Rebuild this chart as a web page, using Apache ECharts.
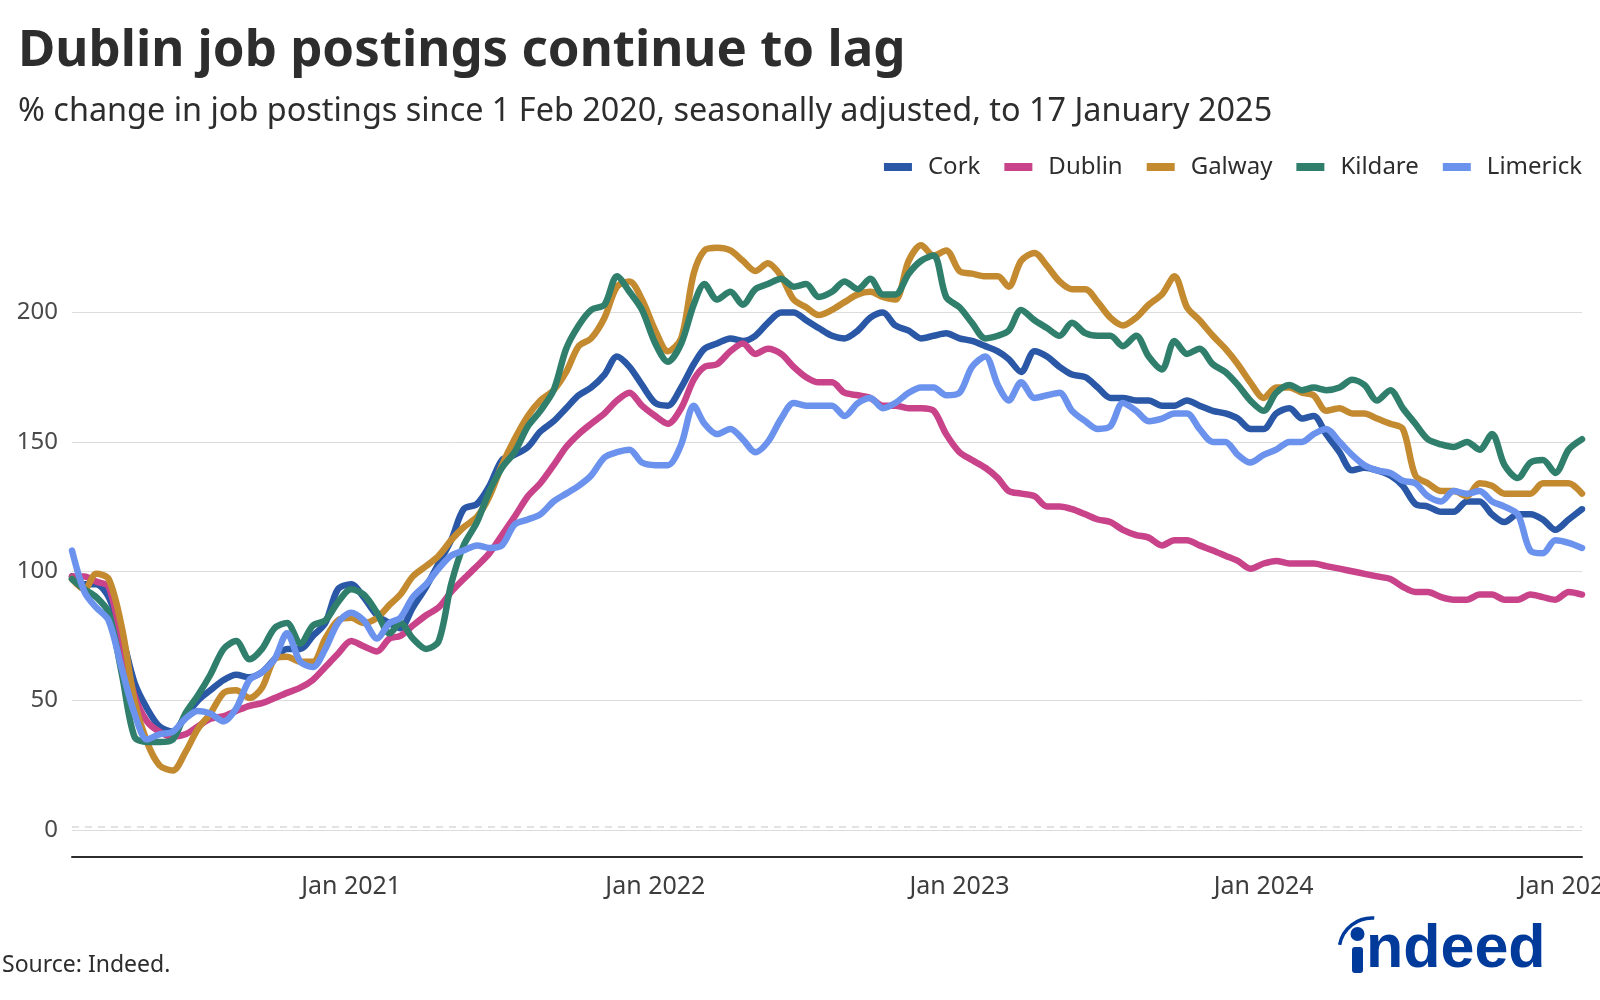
<!DOCTYPE html>
<html>
<head>
<meta charset="utf-8">
<script src="https://cdn.jsdelivr.net/npm/echarts@6/dist/echarts.min.js"></script>
<style>
html,body{margin:0;padding:0;background:#fff;}
#chart{width:1600px;height:1000px;}
</style>
</head>
<body>
<div id="chart"></div>
<script>
// Semi-monthly observation dates (1st and 16th), Feb 2020 -> 17 Jan 2025
const dates = [];
for (let y = 2020; y <= 2025; y++) {
  for (let m = 0; m < 12; m++) {
    if (y === 2020 && m === 0) continue;
    if (y === 2025 && m > 0) break;
    const mm = String(m + 1).padStart(2, '0');
    dates.push(y + '-' + mm + '-01');
    dates.push(y + '-' + mm + '-16');
  }
}
dates[dates.length - 1] = '2025-01-17';

const seriesNames = ['Cork', 'Dublin', 'Galway', 'Kildare', 'Limerick'];

const cork = [98,95,95,90,75,57,47,40,38,44,50,54,58,60,59,61,66,70,70,75,80,
  93,95,90,83,80,78,86,94,103,112,124,126,133,143,145,148,154,158,163,
  168,171,176,183,179,172,165,164,171,180,186,188,190,189,191,196,200,200,197,194,
  191,190,193,198,200,195,193,190,191,192,190,189,187,185,182,177,185,183,179,176,
  175,171,167,167,166,166,164,164,166,164,162,161,159,155,155,161,163,159,160,153,
  146,139,140,139,137,133,126,125,123,123,127,127,122,119,122,122,120,116,120,124];

const dublin = [98,98,96,94,72,52,42,38,36,37,40,43,44,46,48,49,51,53,55,58,63,
  68,73,71,69,74,75,79,83,86,92,97,102,107,114,121,129,134,141,148,
  153,157,161,166,169,164,160,157,163,174,179,180,185,188,184,186,184,179,175,173,
  173,169,168,167,164,164,163,163,162,153,146,143,140,136,131,130,129,125,125,124,
  122,120,119,116,114,113,110,112,112,110,108,106,104,101,103,104,103,103,103,102,
  101,100,99,98,97,94,92,92,90,89,89,91,91,89,89,91,90,89,92,91];

const galway = [97,93,99,97,78,50,34,25,23,30,39,45,53,54,51,55,66,67,65,65,74,
  81,82,80,82,87,91,98,102,106,112,117,121,129,141,151,160,166,170,177,
  187,190,198,210,212,205,193,185,190,215,224,225,224,220,216,219,214,205,202,199,
  201,204,207,208,206,205,220,226,222,224,216,215,214,214,210,220,223,218,212,209,
  209,204,198,195,198,203,207,214,202,197,191,186,180,173,167,171,171,169,168,162,
  163,161,161,159,157,155,137,134,131,131,129,134,133,130,130,130,134,134,134,130];

const kildare = [97,93,90,84,60,36,34,34,35,45,52,60,70,73,66,70,78,80,72,79,81,
  88,93,91,84,76,80,74,70,73,95,110,119,131,140,146,156,162,170,186,
  195,201,203,214,208,201,188,181,188,203,211,205,208,203,209,211,213,210,211,206,
  208,212,209,213,207,207,215,220,222,206,202,196,190,191,193,201,197,194,191,196,
  192,191,191,187,191,183,178,189,184,186,180,177,172,166,162,169,172,170,171,170,
  171,174,172,166,170,163,157,151,149,148,150,147,153,141,136,142,143,138,147,151];

const limerick = [108,92,86,81,62,45,35,37,38,43,46,45,42,47,58,61,66,76,65,63,70,
  80,84,81,74,80,82,90,95,101,106,108,110,109,110,118,120,122,127,130,
  133,137,144,146,147,142,141,141,149,164,157,153,155,151,146,150,159,165,164,164,
  164,160,165,167,163,165,169,171,171,168,169,179,183,172,166,173,167,168,169,162,
  158,155,156,165,162,158,159,161,161,155,150,150,145,142,145,147,150,150,153,155,
  150,145,141,139,138,135,134,129,127,131,130,131,127,125,122,108,107,112,111,109];

const yTicks = [0, 50, 100, 150, 200];

const colors = ['#2a58a6', '#c9438a', '#c48a30', '#2f7f6c', '#6b93ee'];
const values = [cork, dublin, galway, kildare, limerick];

const FONT = '"Noto Sans", "Open Sans", sans-serif';
const chart = echarts.init(document.getElementById('chart'), null, {renderer: 'canvas'});

const series = seriesNames.map((name, k) => {
  const s = {
    name: name,
    type: 'line',
    data: dates.map((d, i) => [d, values[k][i]]),
    showSymbol: false,
    smooth: 0.3,
    lineStyle: {width: 6.5, color: colors[k], cap: 'round', join: 'round'},
    itemStyle: {color: colors[k]},
    emphasis: {disabled: true},
    animation: false,
    z: 2 + k
  };
  if (k === 0) {
    s.markLine = {
      silent: true,
      symbol: 'none',
      label: {show: false},
      animation: false,
      lineStyle: {type: [7, 6], color: '#e2e2e2', width: 2},
      data: [{yAxis: 1.2}]
    };
  }
  return s;
});

chart.setOption({
  animation: false,
  backgroundColor: '#ffffff',
  color: colors,
  grid: {left: 72, right: 18, top: 209, bottom: 170, containLabel: false, outerBoundsMode: 'none'},
  legend: {
    data: seriesNames,
    right: 18,
    top: 155,
    padding: 0,
    icon: 'rect',
    itemWidth: 28,
    itemHeight: 8,
    itemGap: 24,
    textStyle: {fontSize: 24, color: '#2d2d2d', fontFamily: FONT, padding: [0, 0, 0, 11]}
  },
  xAxis: {
    type: 'time',
    min: '2020-02-01',
    max: '2025-01-17',
    offset: 27,
    axisLine: {show: true, onZero: false, lineStyle: {color: '#2d2d2d', width: 2}},
    axisTick: {show: false},
    splitLine: {show: false},
    axisLabel: {
      fontSize: 25,
      color: '#3d3d3d',
      fontFamily: FONT,
      margin: 17,
      hideOverlap: false,
      showMinLabel: false,
      formatter: function (v) {
        const d = new Date(v);
        return (d.getMonth() === 0 && d.getDate() === 1) ? 'Jan ' + d.getFullYear() : '';
      }
    }
  },
  yAxis: {
    type: 'value',
    min: yTicks[0],
    max: 240,
    interval: 50,
    axisLine: {show: false},
    axisTick: {show: false},
    splitLine: {show: true, showMaxLine: false, lineStyle: {color: '#dcdcdc', width: 1}},
    axisLabel: {
      fontSize: 24, color: '#4a4a4a', fontFamily: FONT, margin: 14,
      formatter: function (v) { return yTicks.indexOf(v) >= 0 ? String(v) : ''; }
    }
  },
  graphic: [
    {type: 'text', silent: true,
      style: {text: 'Dublin job postings continue to lag', x: 18, y: 51, fontSize: 51, fontWeight: 'bold',
        fontFamily: FONT, fill: '#2d2d2d', verticalAlign: 'middle'}},
    {type: 'text', silent: true,
      style: {text: '% change in job postings since 1 Feb 2020, seasonally adjusted, to 17 January 2025', x: 18, y: 112,
        fontSize: 32.4, fontFamily: FONT, fill: '#2d2d2d', verticalAlign: 'middle'}},
    {type: 'text', silent: true,
      style: {text: 'Source: Indeed.', x: 2, y: 965, fontSize: 23, fontFamily: FONT, fill: '#2d2d2d', verticalAlign: 'middle'}},
    {type: 'text', silent: true,
      style: {text: 'ndeed', x: 1366, y: 981, fontSize: 61, fontWeight: 'bold',
        fontFamily: '"Liberation Sans", Arial, sans-serif', fill: '#003a9b', verticalAlign: 'bottom'}},
    {type: 'rect', silent: true, shape: {x: 1352, y: 947, width: 11, height: 26, r: 3}, style: {fill: '#003a9b'}},
    {type: 'circle', silent: true, shape: {cx: 1357.5, cy: 934, r: 7}, style: {fill: '#003a9b'}},
    {type: 'arc', silent: true, shape: {cx: 1372, cy: 951, r: 33, startAngle: 3.33, endAngle: 4.78, clockwise: true},
      style: {stroke: '#003a9b', lineWidth: 3.5, fill: null}}
  ],
  series: series
});
</script>
</body>
</html>
